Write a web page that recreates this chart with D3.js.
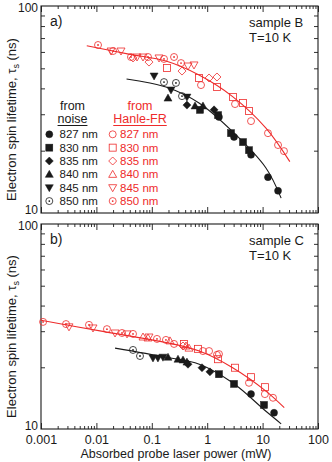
<!DOCTYPE html>
<html>
<head>
<meta charset="utf-8">
<script src="https://cdn.jsdelivr.net/npm/d3@7"></script>
<style>
  body { margin: 0; background: #fff; }
  svg { display: block; font-family: "Liberation Sans", Arial, sans-serif; }
</style>
</head>
<body>
<div id="canvas"></div>
<script>
// wavelengths, one marker shape per wavelength
let wavelengths = ["827 nm", "830 nm", "835 nm", "840 nm", "845 nm", "850 nm"];
let shapes = ["circle", "square", "diamond", "triUp", "triDown", "circleDot"];

// sample B: [power (mW), lifetime (ns)], in wavelength order
let noiseA = [
    [[1.63, 29.1], [3.05, 23.3], [6.18, 19.1], [12.5, 14.9], [19.0, 12.8]],
    [[0.741, 31.5], [1.57, 29.7], [2.69, 24.3], [4.43, 22.0], [5.68, 20.1]],
    [[0.431, 33.2], [1.33, 31.5]],
    [[0.196, 35.9], [0.603, 32.9], [0.839, 32.9]],
    [[0.110, 45.9], [0.222, 39.3], [0.431, 36.3]],
    [[0.166, 42.9], [0.273, 42.5], [0.351, 36.7]]
];
let hanleA = [
    [[0.773, 41.5], [3.18, 33.6], [6.18, 27.8], [12.5, 24.3], [19.0, 21.3], [24.3, 19.9]],
    [[0.188, 50.2], [0.711, 44.9], [1.50, 40.6], [2.92, 36.3], [4.43, 34.0], [5.68, 31.1]],
    [[0.0458, 56.1], [0.0890, 53.6], [0.351, 48.5], [1.08, 44.9], [1.50, 45.4]],
    [],
    [[0.0184, 60.6], [0.0278, 60.6], [0.0541, 56.7], [0.0694, 56.7], [0.135, 56.1], [0.450, 51.3], [0.578, 51.9]],
    [[0.0107, 64.8], [0.0200, 60.6], [0.0421, 56.7], [0.0854, 56.7], [0.166, 55.5], [0.252, 56.7], [0.337, 53.0]]
];
let fitNoiseA = [[0.035, 44.4], [0.180, 40.6], [0.711, 34.0], [2.88, 24.7], [11.5, 16.5], [21.6, 11.8]];
let fitHanleA = [[0.0067, 64.3], [0.0404, 58.4], [0.180, 54.2], [0.711, 46.4], [2.88, 36.5], [11.5, 25.7], [31, 17.7]];

// sample C
let noiseB = [
    [[6.18, 14.8], [16.1, 12.0]],
    [[1.63, 18.5], [3.05, 16.6], [10.6, 13.1]],
    [[0.450, 20.7], [0.805, 19.9], [1.12, 19.0]],
    [[0.196, 22.4], [0.297, 21.9], [0.366, 21.7], [0.431, 21.2]],
    [[0.105, 22.2], [0.129, 22.2], [0.159, 22.4]],
    [[0.0458, 24.3], [0.0612, 22.7]]
];
let hanleB = [
    [[0.252, 26.0], [0.839, 24.0], [1.08, 24.0], [1.50, 23.0], [1.63, 23.2], [5.68, 16.8], [11.0, 14.8], [15.4, 14.2]],
    [[0.381, 26.0], [0.682, 24.6], [1.57, 21.9], [3.18, 19.9], [6.18, 17.9], [11.0, 16.0]],
    [[0.366, 25.4]],
    [[0.0694, 28.1], [0.0854, 27.8], [0.213, 26.9], [0.414, 25.4], [0.469, 24.8]],
    [[0.00320, 31.5], [0.00868, 31.1], [0.0217, 29.4], [0.0357, 29.1], [0.0890, 28.1]],
    [[0.00109, 33.3], [0.00283, 32.5], [0.00735, 32.2], [0.0155, 30.7], [0.0290, 29.4], [0.0458, 29.1], [0.124, 27.5], [0.180, 27.2]]
];
let fitNoiseB = [[0.0217, 24.8], [0.180, 22.4], [0.720, 20.7], [2.88, 16.8], [11.5, 12.2], [21.6, 10.6]];
let fitHanleB = [[0.001, 33.9], [0.0116, 30.1], [0.180, 26.4], [0.720, 24.0], [2.88, 19.9], [11.5, 15.3], [24.6, 12.7]];

let xMajor = [0.001, 0.01, 0.1, 1, 10, 100];
let xLabels = ["0.001", "0.01", "0.1", "1", "10", "100"];
let yMajor = [10, 100];

let width = 332;
let height = 462;
let red = "#ee2b2b";
let ink = "#1a1a1a";

var svg = d3.select("#canvas").append("svg")
    .attr("width", width)
    .attr("height", height);

var xScale = d3.scaleLog().domain([0.001, 100]).range([41, 318]);

var minorX = [];
for (let d = 0.001; d < 100; d *= 10) {
    for (let k = 2; k <= 9; k++) minorX.push(+(d * k).toPrecision(3));
}
var minorY = [20, 30, 40, 50, 60, 70, 80, 90];

function marker(g, shape, cx, cy, filled, color) {
    let s = 3.5;
    let fill = filled ? color : "none";
    let el;
    if (shape === "circle" || shape === "circleDot") {
        el = g.append("circle").attr("cx", cx).attr("cy", cy).attr("r", s);
    } else if (shape === "square") {
        el = g.append("rect").attr("x", cx - s).attr("y", cy - s).attr("width", 2 * s).attr("height", 2 * s);
    } else if (shape === "diamond") {
        let r = 4;
        el = g.append("path").attr("d", `M${cx},${cy - r}L${cx + r},${cy}L${cx},${cy + r}L${cx - r},${cy}Z`);
    } else {
        let dir = shape === "triUp" ? 1 : -1;
        let h = 4;
        el = g.append("path").attr("d",
            `M${cx},${cy - dir * h}L${cx + h},${cy + dir * h * 0.75}L${cx - h},${cy + dir * h * 0.75}Z`);
    }
    if (shape === "circleDot") {
        el.attr("fill", "none").attr("stroke", color).attr("stroke-width", 0.8);
        g.append("circle").attr("cx", cx).attr("cy", cy).attr("r", 0.9).attr("fill", color);
    } else {
        el.attr("fill", fill).attr("stroke", color).attr("stroke-width", filled ? 0.5 : 0.8);
    }
}

function panel(top, bottom, noise, hanle, fitN, fitH, name, tag, showX) {
    var yScale = d3.scaleLog().domain([10, 100]).range([bottom, top]);
    var g = svg.append("g");

    // x ticks, bottom and top, pointing inward
    g.append("g").attr("transform", `translate(0,${bottom})`)
        .call(d3.axisBottom(xScale).tickValues(minorX).tickSize(-3).tickFormat(""));
    g.append("g").attr("transform", `translate(0,${bottom})`)
        .call(d3.axisBottom(xScale).tickValues(xMajor).tickSize(-6).tickPadding(6)
            .tickFormat((d, i) => showX ? xLabels[i] : ""));
    g.append("g").attr("transform", `translate(0,${top})`)
        .call(d3.axisTop(xScale).tickValues(minorX).tickSize(-3).tickFormat(""));
    g.append("g").attr("transform", `translate(0,${top})`)
        .call(d3.axisTop(xScale).tickValues(xMajor).tickSize(-6).tickFormat(""));

    g.selectAll(".tick text").attr("font-size", "12.5px");

    // y ticks, left and right
    g.append("g").attr("transform", "translate(41,0)")
        .call(d3.axisLeft(yScale).tickValues(minorY).tickSize(-4).tickFormat(""));
    var yLab = g.append("g").attr("transform", "translate(41,0)")
        .call(d3.axisLeft(yScale).tickValues(yMajor).tickSize(0).tickPadding(3).tickFormat(d3.format("d")));
    yLab.selectAll(".tick text")
        .attr("font-size", "12px")
        .attr("y", d => d === 10 ? -3 : 2);
    g.append("g").attr("transform", "translate(318,0)")
        .call(d3.axisRight(yScale).tickValues(minorY).tickSize(-4).tickFormat(""));

    g.selectAll(".domain").remove();
    g.selectAll(".tick line").attr("stroke", ink).attr("stroke-width", 0.9);
    g.selectAll(".tick text").attr("fill", ink)
        .attr("font-family", "Liberation Sans, Arial, sans-serif");

    g.append("rect")
        .attr("x", 41).attr("y", top)
        .attr("width", 318 - 41).attr("height", bottom - top)
        .attr("fill", "none").attr("stroke", ink).attr("stroke-width", 1.1);

    var line = d3.line()
        .x(d => xScale(d[0]))
        .y(d => yScale(d[1]))
        .curve(d3.curveCatmullRom);

    g.append("path").datum(fitH).attr("d", line)
        .attr("fill", "none").attr("stroke", red).attr("stroke-width", 1.1);
    g.append("path").datum(fitN).attr("d", line)
        .attr("fill", "none").attr("stroke", ink).attr("stroke-width", 1.1);

    hanle.forEach((series, i) => {
        series.forEach(d => marker(g, shapes[i], xScale(d[0]), yScale(d[1]), false, red));
    });
    noise.forEach((series, i) => {
        let filled = shapes[i] !== "circleDot";
        series.forEach(d => marker(g, shapes[i], xScale(d[0]), yScale(d[1]), filled, ink));
    });

    g.append("text").attr("x", 50).attr("y", top + 20)
        .attr("font-size", "14px").attr("fill", ink).text(tag);
    g.append("text").attr("x", 249).attr("y", top + 21)
        .attr("font-size", "13px").attr("fill", ink).text(name);
    g.append("text").attr("x", 249).attr("y", top + 36)
        .attr("font-size", "13px").attr("fill", ink).text("T=10 K");

    g.append("text")
        .attr("transform", `translate(16,${(top + bottom) / 2 + 10}) rotate(-90)`)
        .attr("text-anchor", "middle").attr("font-size", "13px").attr("fill", ink)
        .call(t => {
            t.append("tspan").text("Electron spin lifetime, \u03c4");
            t.append("tspan").attr("font-size", "9px").attr("dy", 3).text("s");
            t.append("tspan").attr("dy", -3).text(" (ns)");
        });
}

panel(6, 213, noiseA, hanleA, fitNoiseA, fitHanleA, "sample B", "a)", false);
panel(224, 429, noiseB, hanleB, fitNoiseB, fitHanleB, "sample C", "b)", true);

svg.append("text").attr("x", 176).attr("y", 457.5)
    .attr("text-anchor", "middle").attr("font-size", "12.5px").attr("fill", ink)
    .text("Absorbed probe laser power (mW)");

// legend
var leg = svg.append("g");
function heading(cx, lines, color) {
    leg.append("text").attr("x", cx).attr("y", 110).attr("text-anchor", "middle")
        .attr("font-size", "12.5px").attr("fill", color).text(lines[0]);
    var t = leg.append("text").attr("x", cx).attr("y", 123).attr("text-anchor", "middle")
        .attr("font-size", "12.5px").attr("fill", color).text(lines[1]);
    var w = t.node().getComputedTextLength();
    leg.append("line").attr("x1", cx - w / 2).attr("x2", cx + w / 2)
        .attr("y1", 125.5).attr("y2", 125.5).attr("stroke", color).attr("stroke-width", 1);
}
heading(72.5, ["from", "noise"], ink);
heading(140, ["from", "Hanle-FR"], red);

wavelengths.forEach((w, i) => {
    let cy = 134.3 + i * 13.35;
    marker(leg, shapes[i], 49.3, cy, shapes[i] !== "circleDot", ink);
    leg.append("text").attr("x", 59.5).attr("y", cy).attr("dy", "0.36em")
        .attr("font-size", "11.5px").attr("fill", ink).text(w);
    marker(leg, shapes[i], 112.7, cy, false, red);
    leg.append("text").attr("x", 120).attr("y", cy).attr("dy", "0.36em")
        .attr("font-size", "11.5px").attr("fill", red).text(w);
});
</script>
</body>
</html>
